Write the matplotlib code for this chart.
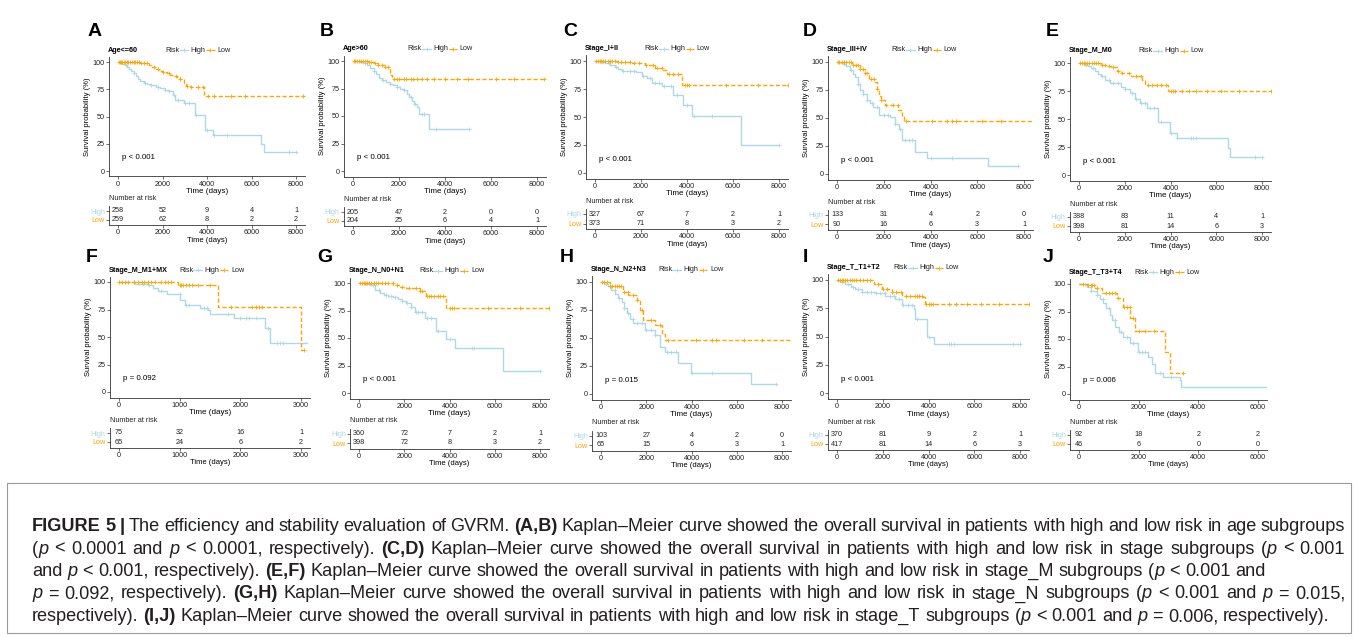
import matplotlib
matplotlib.use('Agg')
import matplotlib.pyplot as plt
from matplotlib.patches import Rectangle

W, H = 1358, 637
plt.rcParams['font.family'] = ['Liberation Sans', 'DejaVu Sans']

HIGH_COL = 'lightblue'
LOW_COL = 'orange'

# ---- survival curves: (time in days, survival %) step knots, end time, censor times ----
a_high = [(0, 100), (100, 99), (200, 98), (300, 97), (400, 95.5), (500, 94), (600, 92), (700, 90),
          (800, 87), (900, 84), (1000, 82.5), (1150, 81), (1300, 80), (1500, 79), (1700, 77.5),
          (1900, 76), (2100, 74.5), (2300, 73), (2450, 70), (2550, 65), (2950, 62.5), (3450, 51),
          (3920, 38), (4250, 33), (6420, 25), (6540, 17)]
a_high_end = 8000
a_high_cens = [350, 700, 1200, 1500, 1800, 2100, 2300, 2500, 2700, 3000, 3200, 3500, 4000, 4300,
               4900, 7700, 8000]
a_low = [(0, 100), (1000, 99.5), (1250, 99), (1400, 97), (1550, 95), (1700, 94), (1850, 92),
         (2000, 91), (2200, 90), (2350, 88.5), (2500, 87.5), (2650, 86), (2800, 84), (2950, 80.5),
         (3050, 78), (3300, 77), (3850, 68.5)]
a_low_end = 8400
a_low_cens = [30, 80, 130, 200, 260, 330, 400, 470, 540, 620, 700, 780, 860, 950, 1050, 1150, 1300,
              1600, 1800, 2000, 2300, 2600, 2800, 3100, 3300, 3600, 3800, 4050, 4300, 5100, 5700, 8300]
a_risk_high = [258, 52, 9, 4, 1]
a_risk_low = [259, 62, 8, 2, 2]

b_high = [(0, 100), (300, 99), (450, 98), (600, 96.5), (750, 94), (900, 91), (1000, 88), (1150, 85),
          (1250, 82.5), (1450, 81), (1600, 79.5), (1750, 78), (1900, 76.5), (2050, 75), (2200, 73.5),
          (2350, 70), (2450, 67.5), (2550, 64), (2650, 61), (2800, 58.5), (2850, 51.5), (3320, 38)]
b_high_end = 5100
b_high_cens = [500, 900, 1300, 1600, 1900, 2200, 2500, 2700, 3000, 3100, 3600, 5050]
b_low = [(0, 100), (700, 99), (900, 98), (1100, 96.5), (1400, 95), (1550, 93.5), (1620, 87), (1700, 84)]
b_low_end = 8400
b_low_cens = [50, 100, 170, 250, 330, 420, 500, 600, 700, 800, 950, 1100, 1250, 1400, 1500, 1800,
              1900, 2000, 2200, 2300, 2500, 2600, 2800, 3000, 3200, 3500, 4000, 4500, 5000, 6200,
              7000, 8300]
b_risk_high = [205, 47, 2, 0, 0]
b_risk_low = [204, 25, 6, 4, 1]

c_high = [(0, 100), (200, 99), (435, 98), (650, 96.5), (870, 95), (1000, 93), (1160, 91), (1800, 90),
          (2030, 87), (2250, 84.5), (2460, 80), (2900, 78), (3400, 70), (3840, 61), (4200, 50.5),
          (6350, 25.2)]
c_high_end = 8000
c_high_cens = [300, 600, 900, 1200, 1500, 1700, 2100, 2400, 2600, 2800, 3000, 3300, 3550, 4000,
               4300, 5100, 8000]
c_low = [(0, 100), (1000, 99.5), (1600, 98), (2170, 96.5), (2600, 94), (2970, 92), (3120, 88.5),
         (3770, 78.7)]
c_low_end = 8400
c_low_cens = [50, 120, 200, 280, 360, 450, 550, 650, 750, 850, 1000, 1150, 1300, 1500, 1700, 1900,
              2200, 2500, 2700, 2900, 3200, 3400, 3600, 3900, 4000, 4100, 5700, 7100, 8400]
c_risk_high = [327, 67, 7, 2, 1]
c_risk_low = [373, 71, 8, 3, 2]

d_high = [(0, 100), (150, 99), (284, 98.5), (400, 96), (570, 92.5), (700, 89), (780, 86.5), (900, 80),
          (994, 75), (1100, 71), (1278, 66), (1400, 63), (1560, 60), (1776, 53), (2273, 51),
          (2486, 45), (2650, 40), (2770, 30.5), (3340, 20), (3835, 14.2), (6460, 6.8)]
d_high_end = 7750
d_high_cens = [300, 600, 900, 1100, 1300, 1500, 1700, 2000, 2200, 2500, 2700, 2900, 3100, 3200,
               4000, 4900, 7750]
d_low = [(0, 100), (640, 97), (994, 94), (1200, 90), (1350, 85), (1633, 82), (1700, 76), (1776, 70),
         (1900, 66), (2060, 61.5), (2628, 57), (2770, 51), (2870, 47.3)]
d_low_end = 8400
d_low_cens = [50, 100, 200, 300, 400, 500, 600, 700, 800, 900, 1000, 1100, 1200, 1300, 1450, 1600,
              1700, 1900, 2100, 2400, 2600, 2950, 4050, 4700, 4900, 5100, 6200, 7000]
d_risk_high = [133, 31, 4, 2, 0]
d_risk_low = [90, 16, 6, 3, 1]

e_high = [(0, 100), (200, 98.5), (400, 97), (540, 95.5), (700, 93), (850, 90.5), (980, 88),
          (1150, 85), (1345, 82), (1857, 79), (2000, 77), (2222, 73), (2450, 68), (2660, 64.5),
          (2953, 60), (3435, 47.5), (3977, 37.7), (4270, 32.6), (6506, 24.3), (6608, 16.3)]
e_high_end = 8000
e_high_cens = [300, 600, 1000, 1300, 1500, 1700, 2000, 2300, 2500, 2700, 2900, 3100, 3300, 3600,
               4000, 4300, 4900, 5000, 5100, 7700, 8000]
e_low = [(0, 100), (980, 98.5), (1200, 97.5), (1418, 96), (1650, 93), (1857, 91), (2295, 88),
         (2734, 85), (2880, 80.7), (3904, 75.4)]
e_low_end = 8400
e_low_cens = [50, 120, 200, 280, 360, 450, 550, 650, 750, 850, 1000, 1150, 1300, 1500, 1700, 1900,
              2200, 2500, 2700, 3000, 3200, 3400, 3600, 3800, 4000, 4100, 4200, 4500, 4800, 5100,
              5600, 6200, 7000, 8400]
e_risk_high = [388, 83, 11, 4, 1]
e_risk_low = [398, 81, 14, 6, 3]

f_high = [(0, 100), (264, 98.5), (484, 97.6), (567, 94.5), (650, 91.5), (787, 89), (1007, 83.8),
          (1090, 79), (1337, 76), (1475, 74.7), (1500, 70.7), (1888, 67), (2410, 58), (2493, 45)]
f_high_end = 3100
f_high_cens = [100, 250, 400, 500, 700, 1000, 1100, 1150, 1400, 1450, 1800, 2000, 2100, 2150, 2250,
               2450, 2600, 2650, 2700]
f_low = [(0, 100), (980, 97), (1640, 77.7), (3005, 38)]
f_low_end = 3050
f_low_cens = [0, 50, 100, 150, 250, 320, 380, 420, 480, 530, 600, 700, 750, 800, 860, 1000, 1030,
              1060, 1100, 1150, 1200, 1300, 1500, 1850, 2200, 2250, 2300, 2350, 3050]
f_risk_high = [75, 32, 16, 1]
f_risk_low = [65, 24, 6, 2]

g_high = [(0, 100), (250, 99), (472, 98), (700, 94), (915, 91), (1100, 89), (1284, 88), (1500, 87),
          (1727, 85.8), (1900, 84), (2096, 82), (2300, 78), (2465, 74), (2908, 68), (3424, 56.7),
          (3867, 49), (4236, 41), (6376, 20.3)]
g_high_end = 8000
g_high_cens = [300, 600, 900, 1200, 1400, 1600, 1900, 2100, 2300, 2500, 2600, 2800, 3000, 3200,
               3500, 4000, 5000, 5100, 8000]
g_low = [(0, 100), (1505, 98), (1800, 96.5), (2096, 95.5), (2686, 92.4), (2981, 88), (3850, 77)]
g_low_end = 8400
g_low_cens = [50, 120, 200, 280, 360, 450, 550, 650, 750, 850, 1000, 1150, 1300, 1500, 1700, 1900,
              2200, 2500, 2700, 2800, 3000, 3100, 3200, 3300, 3500, 3600, 3700, 4000, 4100, 4200,
              5700, 7100, 8400]
g_risk_high = [360, 72, 7, 2, 1]
g_risk_low = [398, 72, 8, 3, 2]

h_high = [(0, 100), (150, 98.5), (325, 96.4), (450, 93), (620, 89.6), (750, 86), (915, 82),
          (1000, 77), (1136, 72), (1300, 67), (1432, 63), (1948, 57), (2390, 52.7), (2612, 42.3),
          (2834, 37.3), (3424, 27.5), (3985, 18.6), (6642, 8.9)]
h_high_end = 7750
h_high_cens = [200, 400, 600, 800, 1000, 1200, 1400, 1600, 1800, 2000, 2200, 2400, 2900, 3100, 3300,
               4000, 4900, 7750]
h_low = [(0, 100), (400, 96.4), (990, 91), (1210, 88), (1580, 84), (1727, 75), (1875, 66),
         (2390, 61.5), (2686, 54), (2834, 48.2)]
h_low_end = 8400
h_low_cens = [50, 150, 250, 400, 500, 600, 700, 800, 900, 1000, 1200, 1400, 1600, 1800, 2200, 2600,
              2950, 4200, 4900, 5100, 6300, 7100]
h_risk_high = [103, 27, 4, 2, 0]
h_risk_low = [65, 15, 6, 3, 1]

i_high = [(0, 100), (150, 98.5), (364, 96.5), (600, 94), (800, 92), (1090, 89), (1673, 88.6),
          (2109, 86), (2545, 83.3), (2836, 77.5), (3345, 74.5), (3420, 65.8), (3927, 49.7),
          (4262, 43)]
i_high_end = 8000
i_high_cens = [200, 500, 700, 900, 1100, 1300, 1500, 1700, 1900, 2100, 2300, 2500, 2700, 2900, 3100,
               3300, 3500, 4000, 4900, 5000, 5100, 7700, 8000]
i_low = [(0, 100), (1600, 96.5), (1964, 92), (2400, 89), (2836, 86), (3709, 85), (3855, 79)]
i_low_end = 8400
i_low_cens = [50, 120, 200, 280, 360, 450, 550, 650, 750, 850, 1000, 1150, 1300, 1450, 1800, 2000,
              2200, 2400, 2600, 2800, 3000, 3200, 3400, 3500, 3600, 3700, 3900, 4000, 4100, 4200,
              4900, 5200, 5700, 6300, 7100, 8400]
i_risk_high = [370, 81, 9, 2, 1]
i_risk_low = [417, 81, 14, 6, 3]

j_high = [(0, 100), (256, 97.6), (400, 94), (591, 90), (700, 86), (814, 82.4), (900, 78),
          (1037, 71.8), (1100, 67), (1204, 61), (1350, 56), (1483, 52), (1706, 46), (1985, 38.5),
          (2320, 34), (2450, 27), (2543, 18.8), (2821, 15.8), (3379, 12.7), (3435, 6.7)]
j_high_end = 6300
j_high_cens = [200, 400, 600, 800, 1000, 1200, 1400, 1600, 1800, 2000, 2100, 2200, 2700, 3100]
j_low = [(0, 100), (256, 99), (535, 96), (758, 92), (1260, 87), (1483, 79.4), (1706, 68.8),
         (1874, 57.3), (2877, 38.5), (3044, 18.8)]
j_low_end = 3500
j_low_cens = [150, 300, 400, 450, 500, 600, 900, 1000, 1100, 1200, 1300, 1500, 1600, 1700, 1800,
              2000, 2200, 2500, 3500]
j_risk_high = [92, 18, 2, 2]
j_risk_low = [46, 6, 0, 0]

titles = ['Age<=60', 'Age>60', 'Stage_I+II', 'Stage_III+IV', 'Stage_M_M0',
          'Stage_M_M1+MX', 'Stage_N_N0+N1', 'Stage_N_N2+N3', 'Stage_T_T1+T2', 'Stage_T_T3+T4']
letters = ['A', 'B', 'C', 'D', 'E', 'F', 'G', 'H', 'I', 'J']
pvals = ['p < 0.001', 'p < 0.001', 'p < 0.001', 'p < 0.001', 'p < 0.001',
         'p = 0.092', 'p < 0.001', 'p = 0.015', 'p < 0.001', 'p = 0.006']
ticks_8000 = [0, 2000, 4000, 6000, 8000]
ticks_3000 = [0, 1000, 2000, 3000]
ticks_6000 = [0, 2000, 4000, 6000]

curves = [
    (a_high, a_high_end, a_high_cens, a_low, a_low_end, a_low_cens, a_risk_high, a_risk_low, ticks_8000),
    (b_high, b_high_end, b_high_cens, b_low, b_low_end, b_low_cens, b_risk_high, b_risk_low, ticks_8000),
    (c_high, c_high_end, c_high_cens, c_low, c_low_end, c_low_cens, c_risk_high, c_risk_low, ticks_8000),
    (d_high, d_high_end, d_high_cens, d_low, d_low_end, d_low_cens, d_risk_high, d_risk_low, ticks_8000),
    (e_high, e_high_end, e_high_cens, e_low, e_low_end, e_low_cens, e_risk_high, e_risk_low, ticks_8000),
    (f_high, f_high_end, f_high_cens, f_low, f_low_end, f_low_cens, f_risk_high, f_risk_low, ticks_3000),
    (g_high, g_high_end, g_high_cens, g_low, g_low_end, g_low_cens, g_risk_high, g_risk_low, ticks_8000),
    (h_high, h_high_end, h_high_cens, h_low, h_low_end, h_low_cens, h_risk_high, h_risk_low, ticks_8000),
    (i_high, i_high_end, i_high_cens, i_low, i_low_end, i_low_cens, i_risk_high, i_risk_low, ticks_8000),
    (j_high, j_high_end, j_high_cens, j_low, j_low_end, j_low_cens, j_risk_high, j_risk_low, ticks_6000),
]

# ---- layout in image pixels ----
# x of first tick, x of last tick, y of 100 %, y of 0 %, y of "High" row, y of "Low" row, legend offset
layout = [
    (118, 296, 62, 171, 211, 219.5, 56),
    (353, 537, 61, 171, 212, 220.5, 64),
    (595, 779, 61, 173, 214, 223.5, 59),
    (837, 1024, 62, 174, 215, 224.5, 64),
    (1079, 1262, 63, 175, 216.5, 226, 69),
    (119, 301, 282, 392, 433, 442, 69),
    (359, 540, 283, 393, 433.5, 443, 69),
    (601, 782, 282, 394, 435.5, 445, 66),
    (837, 1020, 280, 393, 434.5, 444, 66),
    (1079, 1258, 284, 394, 434.5, 444, 64),
]
letter_pos = [(95, 32), (327, 32), (570, 32), (810, 32), (1052, 32),
              (92, 257), (325, 257), (567, 257), (805, 257), (1048, 258)]

SPINE = '#333333'
FS = 5.2


def px_rect(left, top, right, bottom):
    return [left / W, 1 - bottom / H, (right - left) / W, (bottom - top) / H]


def surv_at(knots, t):
    s = knots[0][1]
    for kt, ks in knots:
        if kt <= t:
            s = ks
    return s


def style_axis(ax):
    for side in ['top', 'right']:
        ax.spines[side].set_visible(False)
    for side in ['left', 'bottom']:
        ax.spines[side].set_color(SPINE)
        ax.spines[side].set_linewidth(0.6)
    ax.tick_params(length=2, width=0.5, pad=1, labelsize=FS, colors=SPINE, labelcolor='#222222')
    ax.set_facecolor('none')


fig = plt.figure(figsize=(W / 100, H / 100), dpi=100)
ov = fig.add_axes([0, 0, 1, 1])
ov.set_xlim(0, W)
ov.set_ylim(H, 0)
ov.axis('off')

for k in range(10):
    high, high_end, high_cens, low, low_end, low_cens, risk_high, risk_low, ticks = curves[k]
    x0, x1, y100, y0, yh, yl, leg_off = layout[k]
    T = ticks[-1]
    span = x1 - x0
    ysp = y0 - y100
    left, right = x0 - 0.05 * span, x1 + 0.05 * span
    top, bottom = y100 - 0.05 * ysp, y0 + 0.05 * ysp

    ax = fig.add_axes(px_rect(left, top, right, bottom))
    style_axis(ax)
    ax.set_xlim(-0.05 * T, 1.05 * T)
    ax.set_ylim(-5, 105)
    for knots, end, cens, col, ls in [(high, high_end, high_cens, HIGH_COL, '-'),
                                       (low, low_end, low_cens, LOW_COL, (0, (3, 1.6)))]:
        ts = [p[0] for p in knots] + [end]
        ss = [p[1] for p in knots] + [knots[-1][1]]
        ax.step(ts, ss, where='post', color=col, lw=1.0, ls=ls)
        ax.plot(cens, [surv_at(knots, c) for c in cens], '+', color=col, ms=3.2, mew=0.6)
    ax.set_xticks(ticks)
    ax.set_yticks([0, 25, 50, 75, 100])
    ax.set_xlabel('Time (days)', fontsize=FS + 0.6, labelpad=0.5)
    ax.set_ylabel('Survival probability (%)', fontsize=FS + 0.3, labelpad=1)
    ax.text(0.02 * T, 12, pvals[k], fontsize=FS + 0.5, ha='left', va='center')

    # risk table
    d = yl - yh
    tax = fig.add_axes(px_rect(left, yh - 5, right, yl + 5.5))
    style_axis(tax)
    tax.set_xlim(-0.05 * T, 1.05 * T)
    tax.set_ylim(1 - 5.5 / d, 2 + 5 / d)
    tax.set_xticks(ticks)
    tax.set_yticks([2, 1])
    tax.set_yticklabels(['High', 'Low'])
    for lab, col in zip(tax.get_yticklabels(), [HIGH_COL, LOW_COL]):
        lab.set_color(col)
    for t, n in zip(ticks, risk_high):
        tax.text(t, 2, str(n), fontsize=FS, ha='center', va='center', color='#222222')
    for t, n in zip(ticks, risk_low):
        tax.text(t, 1, str(n), fontsize=FS, ha='center', va='center', color='#222222')
    tax.set_xlabel('Time (days)', fontsize=FS + 0.3, labelpad=0.5)
    ov.text(left, yh - 12.5, 'Number at risk', fontsize=FS, ha='left', va='center', color='#222222')

    # title, legend, letter
    ty = top - 6.5
    ov.text(left - 1, ty, titles[k], fontsize=FS, fontweight='bold', ha='left', va='center')
    rx = left + leg_off
    ov.text(rx, ty, 'Risk', fontsize=FS, ha='left', va='center', color='#222222')
    ov.plot([rx + 14.5, rx + 23], [ty, ty], color=HIGH_COL, lw=0.9)
    ov.plot([rx + 18.7], [ty], '+', color=HIGH_COL, ms=3.2, mew=0.6)
    ov.text(rx + 25.5, ty, 'High', fontsize=FS, ha='left', va='center', color='#222222')
    ov.plot([rx + 41, rx + 49.5], [ty, ty], color=LOW_COL, lw=0.9, ls=(0, (3, 1.6)))
    ov.plot([rx + 45.2], [ty], '+', color=LOW_COL, ms=3.2, mew=0.6)
    ov.text(rx + 52, ty, 'Low', fontsize=FS, ha='left', va='center', color='#222222')
    lx, ly = letter_pos[k]
    ov.text(lx, ly, letters[k], fontsize=14, fontweight='bold', ha='center', va='center')

# ---- caption ----
ov.add_patch(Rectangle((7, 483), 1344, 150, fill=False, edgecolor='#9a9a9a', lw=0.8))

cap_lines = [
    [('FIGURE 5 |', 'b'), (' The efficiency and stability evaluation of GVRM. ', 'n'), ('(A,B)', 'b'),
     (' Kaplan–Meier curve showed the overall survival in patients with high and low risk in age subgroups', 'n')],
    [('(', 'n'), ('p', 'i'), (' < 0.0001 and ', 'n'), ('p', 'i'), (' < 0.0001, respectively). ', 'n'),
     ('(C,D)', 'b'),
     (' Kaplan–Meier curve showed the overall survival in patients with high and low risk in stage subgroups (', 'n'),
     ('p', 'i'), (' < 0.001', 'n')],
    [('and ', 'n'), ('p', 'i'), (' < 0.001, respectively). ', 'n'), ('(E,F)', 'b'),
     (' Kaplan–Meier curve showed the overall survival in patients with high and low risk in stage_M subgroups (', 'n'),
     ('p', 'i'), (' < 0.001 and', 'n')],
    [('p', 'i'), (' = 0.092, respectively). ', 'n'), ('(G,H)', 'b'),
     (' Kaplan–Meier curve showed the overall survival in patients with high and low risk in stage_N subgroups (', 'n'),
     ('p', 'i'), (' < 0.001 and ', 'n'), ('p', 'i'), (' = 0.015,', 'n')],
    [('respectively). ', 'n'), ('(I,J)', 'b'),
     (' Kaplan–Meier curve showed the overall survival in patients with high and low risk in stage_T subgroups (', 'n'),
     ('p', 'i'), (' < 0.001 and ', 'n'), ('p', 'i'), (' = 0.006, respectively).', 'n')],
]
justify = [True, True, False, True, False]

renderer = fig.canvas.get_renderer()
CAP_COL = '#231f20'


def font_kw(style, size):
    return dict(fontsize=size, fontweight='bold' if style == 'b' else 'normal',
                fontstyle='italic' if style == 'i' else 'normal', color=CAP_COL)


def text_w(s, style, size):
    t = ov.text(0, 0, s, **font_kw(style, size))
    w = t.get_window_extent(renderer).width
    t.remove()
    return w


def split_words(segments):
    words = [[]]
    for text, style in segments:
        for n, part in enumerate(text.split(' ')):
            if n > 0:
                words.append([])
            if part:
                words[-1].append((part, style))
    return [w for w in words if w]


def natural_width(segments, size):
    words = split_words(segments)
    sp = text_w('x x', 'n', size) - text_w('xx', 'n', size)
    return sum(text_w(p, s, size) for w in words for p, s in w) + sp * (len(words) - 1)


# size the caption so the last (unjustified) line spans nearly the full box width
base = 10.0
cap_size = base * 1298 / natural_width(cap_lines[4], base)

x_left, x_right = 32, 1345
for li, segments in enumerate(cap_lines):
    words = split_words(segments)
    widths = [[text_w(p, s, cap_size) for p, s in w] for w in words]
    total = sum(sum(ws) for ws in widths)
    sp = text_w('x x', 'n', cap_size) - text_w('xx', 'n', cap_size)
    if justify[li]:
        sp = (x_right - x_left - total) / (len(words) - 1)
    x = x_left
    yb = 526 + 22.5 * li + 5
    for w, ws in zip(words, widths):
        for (p, s), pw in zip(w, ws):
            ov.text(x, yb, p, ha='left', va='baseline', **font_kw(s, cap_size))
            x += pw
        x += sp

fig.savefig('out.png', dpi=100)
